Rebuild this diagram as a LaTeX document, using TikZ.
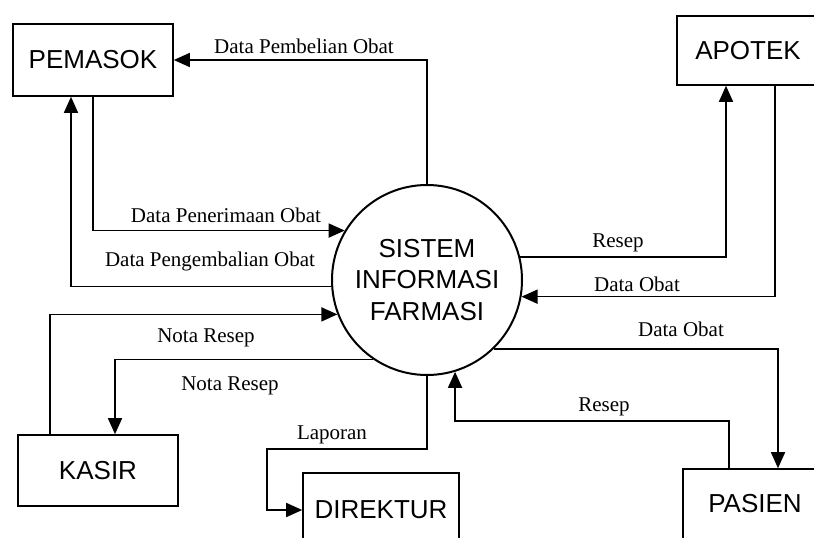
\documentclass[tikz,border=0pt]{standalone}
\usepackage{fontspec}
\setmainfont{Liberation Serif}
\newfontfamily\boxfont{Liberation Sans}
\usetikzlibrary{arrows.meta}
\tikzset{
  entity/.style={draw, line width=1.6pt, inner sep=0pt, font=\boxfont\fontsize{26}{30}\selectfont},
  process/.style={draw, circle, line width=2pt, minimum size=190pt, inner sep=0pt, align=center,
    font=\boxfont\fontsize{26}{31.5}\selectfont},
  flow/.style={line width=1.6pt, -{Triangle[length=16pt,width=14pt]}},
  flowlabel/.style={anchor=base, inner sep=0pt, font=\fontsize{21}{24}\selectfont}
}
\begin{document}
\begin{tikzpicture}[x=1pt, y=-1pt]
  \useasboundingbox (0,0) rectangle (814,538);
  \clip (0,0) rectangle (814,538);
  \fill[white] (0,0) rectangle (814,538);

  % external entities and the central process
  \node[entity, minimum width=160pt, minimum height=72pt] (pem) at (93,60) {PEMASOK};
  \node[entity, minimum width=142pt, minimum height=69pt] (apo) at (748,50.5) {APOTEK};
  \node[entity, minimum width=160pt, minimum height=71pt] (kas) at (98,470.5) {KASIR};
  \node[entity, minimum width=156pt, minimum height=74pt] (dir) at (381,510) {DIREKTUR};
  \node[entity, minimum width=144pt, minimum height=70pt] (pas) at (755,504) {PASIEN};
  \node[process] (sys) at (427,280) {SISTEM\\INFORMASI\\FARMASI};

  % data flows with PEMASOK
  \draw[flow] (sys.north) |- (pem.east);
  \draw[flow] (pem.south) |- (sys.149);
  \draw[flow] (sys.184) -| ([xshift=-22pt]pem.south);

  % data flows with KASIR
  \draw[flow] ([xshift=-48pt]kas.north) |- (sys.201);
  \draw[flow] (sys.236) -| ([xshift=17pt]kas.north);

  % report to DIREKTUR
  \draw[flow] (sys.south) -- ++(0,73) -- ++(-160,0) |- (dir.west);

  % data flows with APOTEK
  \draw[flow] (sys.14) -| ([xshift=-22pt]apo.south);
  \draw[flow] ([xshift=27pt]apo.south) |- (sys.-10);

  % data flows with PASIEN
  \draw[flow] (sys.-46) -| ([xshift=23pt]pas.north);
  \draw[flow] ([xshift=-26pt]pas.north) -- ++(0,-47) -| (sys.-73);

  % flow labels
  \node[flowlabel] (l1) at (304,53) {Data Pembelian Obat};
  \node[flowlabel] (l2) at (226,222) {Data Penerimaan Obat};
  \node[flowlabel] (l3) at (210,266) {Data Pengembalian Obat};
  \node[flowlabel] (l4) at (206,342) {Nota Resep};
  \node[flowlabel] (l5) at (230,390) {Nota Resep};
  \node[flowlabel] (l6) at (332,439) {Laporan};
  \node[flowlabel] (l7) at (618,247) {Resep};
  \node[flowlabel] (l8) at (637,291) {Data Obat};
  \node[flowlabel] (l9) at (681,336) {Data Obat};
  \node[flowlabel] (l10) at (604,411) {Resep};
\end{tikzpicture}
\end{document}
